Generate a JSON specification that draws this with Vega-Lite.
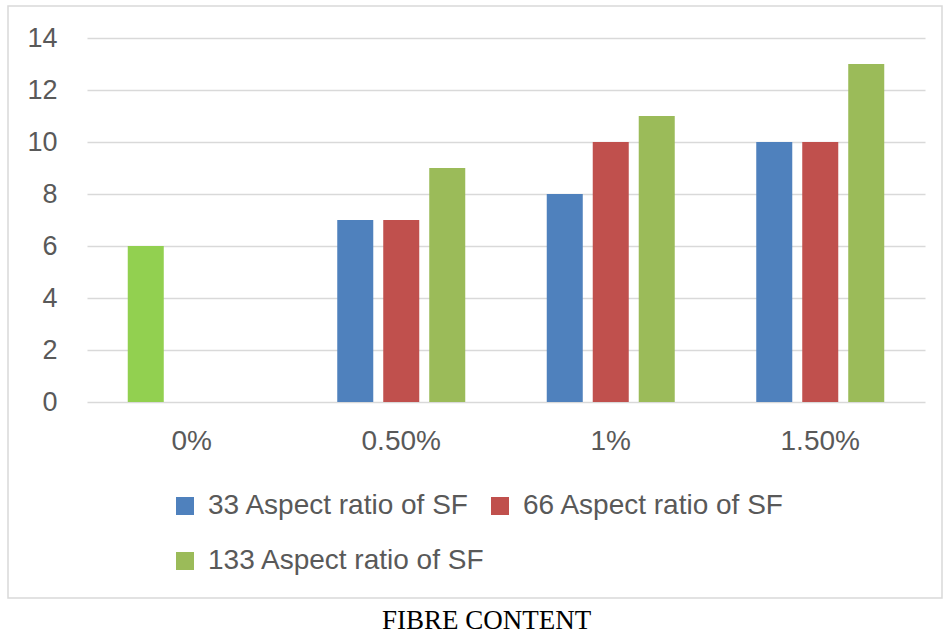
{
  "$schema": "https://vega.github.io/schema/vega-lite/v6.json",
  "autosize": {"type": "none"},
  "width": 934,
  "height": 592,
  "padding": {"left": 8, "top": 6, "right": 1, "bottom": 35},
  "background": "white",
  "config": {
    "view": {"stroke": "#d9d9d9", "strokeWidth": 1.5},
    "font": "Liberation Sans"
  },
  "data": {
    "values": [
      {"content": "0%", "series": "33 Aspect ratio of SF", "value": 6},
      {"content": "0.50%", "series": "33 Aspect ratio of SF", "value": 7},
      {"content": "0.50%", "series": "66 Aspect ratio of SF", "value": 7},
      {"content": "0.50%", "series": "133 Aspect ratio of SF", "value": 9},
      {"content": "1%", "series": "33 Aspect ratio of SF", "value": 8},
      {"content": "1%", "series": "66 Aspect ratio of SF", "value": 10},
      {"content": "1%", "series": "133 Aspect ratio of SF", "value": 11},
      {"content": "1.50%", "series": "33 Aspect ratio of SF", "value": 10},
      {"content": "1.50%", "series": "66 Aspect ratio of SF", "value": 10},
      {"content": "1.50%", "series": "133 Aspect ratio of SF", "value": 13}
    ]
  },
  "mark": {"type": "bar"},
  "encoding": {
    "x": {
      "field": "content",
      "type": "nominal",
      "sort": ["0%", "0.50%", "1%", "1.50%"],
      "scale": {"range": [79, 917], "paddingInner": 0, "paddingOuter": 0},
      "axis": {
        "title": "FIBRE CONTENT",
        "titleFont": "Liberation Serif",
        "titleFontSize": 27,
        "titleFontWeight": "normal",
        "titleColor": "#000000",
        "titleBaseline": "alphabetic",
        "titleAnchor": "middle",
        "titleX": 478,
        "titleY": 226,
        "offset": -196,
        "domain": false,
        "ticks": false,
        "labelAngle": 0,
        "labelPadding": 25,
        "labelFontSize": 28,
        "labelColor": "#595959"
      }
    },
    "xOffset": {
      "field": "series",
      "type": "nominal",
      "sort": ["33 Aspect ratio of SF", "66 Aspect ratio of SF", "133 Aspect ratio of SF"],
      "scale": {"paddingInner": 0.217, "paddingOuter": 0.886}
    },
    "y": {
      "field": "value",
      "type": "quantitative",
      "scale": {"domain": [0, 14], "range": [396, 32], "nice": false},
      "axis": {
        "title": null,
        "values": [0, 2, 4, 6, 8, 10, 12, 14],
        "offset": -49,
        "domain": false,
        "ticks": false,
        "labelPadding": 0,
        "labelFontSize": 27,
        "labelColor": "#595959",
        "gridColor": "#d9d9d9",
        "gridWidth": 1.3
      }
    },
    "color": {
      "condition": {"test": "datum.content === '0%'", "value": "#92D050"},
      "field": "series",
      "type": "nominal",
      "scale": {
        "domain": ["33 Aspect ratio of SF", "133 Aspect ratio of SF", "66 Aspect ratio of SF"],
        "range": ["#4F81BD", "#9BBB59", "#C0504D"]
      },
      "legend": {
        "title": null,
        "orient": "none",
        "legendX": 163,
        "legendY": 486,
        "columns": 2,
        "columnPadding": 0,
        "rowPadding": 27,
        "padding": 0,
        "symbolType": "square",
        "symbolSize": 324,
        "symbolStrokeWidth": 0,
        "labelFontSize": 28,
        "labelColor": "#595959",
        "labelOffset": 9,
        "labelLimit": 500
      }
    }
  }
}
